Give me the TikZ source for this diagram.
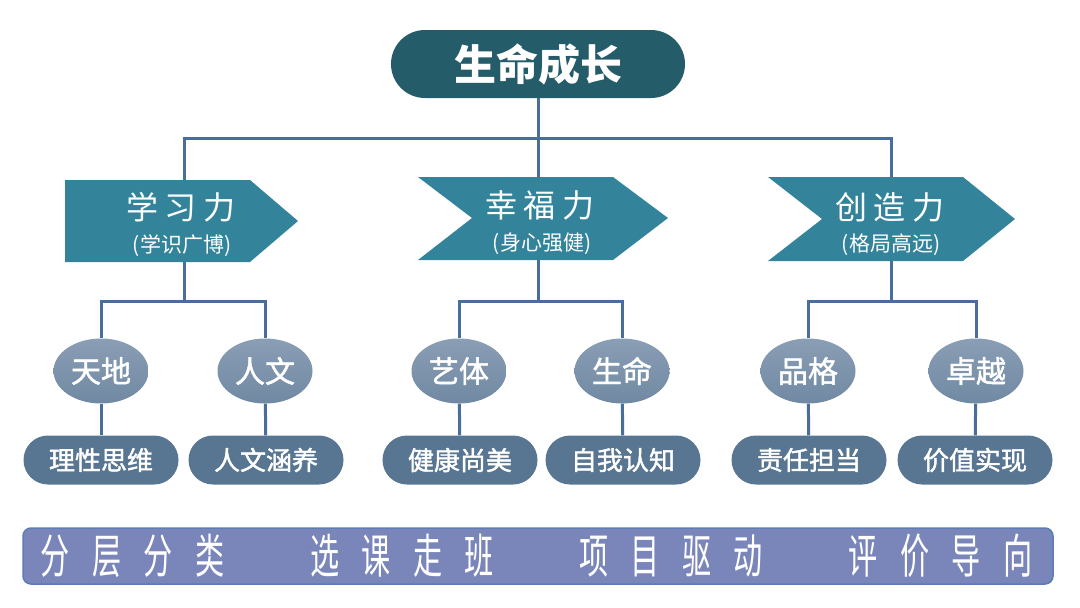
\documentclass[tikz,border=0pt]{standalone}
\usepackage{fontspec}
\setmainfont{Noto Sans CJK SC}
\newfontfamily\medfont[FakeBold=1.6]{Noto Sans CJK SC}
\usetikzlibrary{backgrounds,shapes.geometric}
\definecolor{titlec}{HTML}{245C69}
\definecolor{arrowc}{HTML}{33849B}
\definecolor{linec}{HTML}{4A6E9C}
\definecolor{elltop}{HTML}{8A9EB5}
\definecolor{ellbot}{HTML}{7089A2}
\definecolor{pillc}{HTML}{587592}
\definecolor{banc}{HTML}{7A86BA}
\definecolor{banb}{HTML}{5B7CB6}
\begin{document}
\begin{tikzpicture}[x=1pt,y=-1pt,
  conn/.style={draw=linec,line width=3pt},
  titlebox/.style={rectangle,fill=titlec,rounded corners=34pt,minimum width=294pt,minimum height=68pt,inner sep=0pt,text=white,font=\fontsize{42}{42}\selectfont\bfseries},
  arrowshape/.style={fill=arrowc},
  port/.style={rectangle,minimum width=2pt,minimum height=82pt,inner sep=0pt},
  atitle/.style={text=white,inner sep=0pt,font=\fontsize{32}{32}\selectfont},
  asub/.style={text=white,inner sep=0pt,font=\fontsize{21}{21}\selectfont},
  ell/.style={ellipse,minimum width=95pt,minimum height=65pt,inner sep=0pt,top color=elltop,bottom color=ellbot,text=white,font=\fontsize{30}{30}\medfont},
  pill/.style={rectangle,rounded corners=24.5pt,minimum width=155pt,minimum height=49pt,inner sep=0pt,fill=pillc,text=white,font=\fontsize{26}{26}\medfont},
  banner/.style={rectangle,rounded corners=8pt,minimum width=1030pt,minimum height=56pt,inner sep=0pt,fill=banc,draw=banb,line width=1.5pt},
  bantext/.style={text=white,inner sep=0pt,font=\fontsize{47}{47}\selectfont}
]
\useasboundingbox (0,0) rectangle (1080,608);

% title
\node[titlebox] (title) at (538,64) {生命成长};

% arrow shapes
\fill[arrowshape] (65,180) -- (250,180) -- (298,221) -- (250,262) -- (65,262) -- cycle;
\fill[arrowshape] (418,177) -- (613,177) -- (668,218) -- (613,260) -- (418,260) -- (472,218) -- cycle;
\fill[arrowshape] (768,177) -- (963,177) -- (1015,219) -- (963,261) -- (768,261) -- (822,219) -- cycle;

\node[port] (a1) at (184,221) {};
\node[port] (a2) at (538,218) {};
\node[port] (a3) at (891,219) {};

\node[atitle] (a1t) at (181,207) {学\hspace{7pt}习\hspace{7pt}力};
\node[asub] (a1s) at (182,246) {(学识广博)};
\node[atitle] (a2t) at (540,205) {幸\hspace{7pt}福\hspace{7pt}力};
\node[asub] (a2s) at (542,244) {(身心强健)};
\node[atitle] (a3t) at (890,207) {创\hspace{7pt}造\hspace{7pt}力};
\node[asub] (a3s) at (891,245) {(格局高远)};

\coordinate (hub) at (538,138);
\coordinate (b1) at (184,301);
\coordinate (b2) at (538,301);
\coordinate (b3) at (891,301);

% ellipses
\node[ell] (e11) at (101,371) {天地};
\node[ell] (e12) at (265,371) {人文};
\node[ell] (e21) at (459,371) {艺体};
\node[ell] (e22) at (622,371) {生命};
\node[ell] (e31) at (808,371) {品格};
\node[ell] (e32) at (976,371) {卓越};

% pills
\node[pill] (p11) at (101,460) {理性思维};
\node[pill] (p12) at (266,460) {人文涵养};
\node[pill] (p21) at (460,460) {健康尚美};
\node[pill] (p22) at (623,460) {自我认知};
\node[pill] (p31) at (809,460) {责任担当};
\node[pill] (p32) at (975,460) {价值实现};

% banner
\node[banner] (ban) at (538,556) {};
\node[bantext] (bt1) at (132.7,556) {\scalebox{0.62}[1]{分\hspace{36pt}层\hspace{36pt}分\hspace{36pt}类}};
\node[bantext] (bt2) at (402,556) {\scalebox{0.62}[1]{选\hspace{36pt}课\hspace{36pt}走\hspace{36pt}班}};
\node[bantext] (bt3) at (671.3,556) {\scalebox{0.62}[1]{项\hspace{36pt}目\hspace{36pt}驱\hspace{36pt}动}};
\node[bantext] (bt4) at (940.6,556) {\scalebox{0.62}[1]{评\hspace{36pt}价\hspace{36pt}导\hspace{36pt}向}};

% connectors
\begin{scope}[on background layer]
\draw[conn] (title) -- (a2);
\draw[conn] (a1) |- (hub) -| (a3);
\draw[conn] (a1) -- (b1);
\draw[conn] (a2) -- (b2);
\draw[conn] (a3) -- (b3);
\draw[conn] (e11) |- (b1) -| (e12);
\draw[conn] (e21) |- (b2) -| (e22);
\draw[conn] (e31) |- (b3) -| (e32);
\draw[conn] (e11) -- (p11);
\draw[conn] (e12) -- (p12);
\draw[conn] (e21) -- (p21);
\draw[conn] (e22) -- (p22);
\draw[conn] (e31) -- (p31);
\draw[conn] (e32) -- (p32);
\end{scope}
\end{tikzpicture}
\end{document}
